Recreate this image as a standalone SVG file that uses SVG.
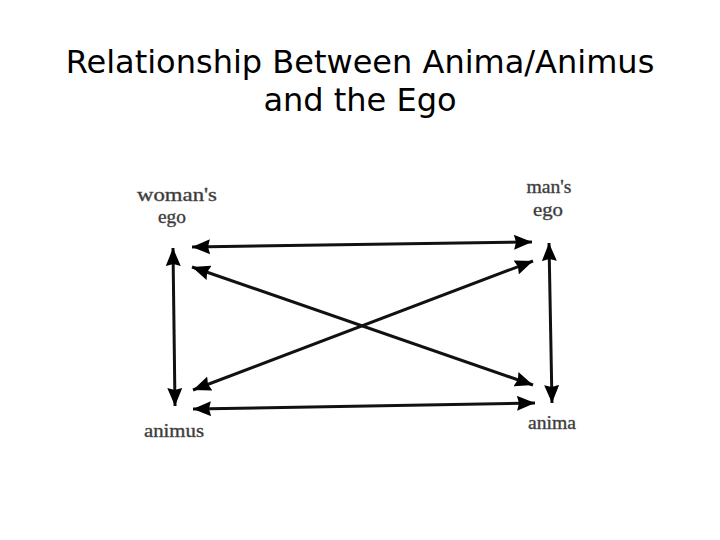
<svg xmlns="http://www.w3.org/2000/svg" width="720" height="540" viewBox="0 0 720 540">
<style>
.title{font-family:"DejaVu Sans",Verdana,sans-serif;font-size:32px;fill:#000;text-anchor:middle}
.lbl{font-family:"Liberation Serif","Times New Roman",serif;font-size:18px;fill:#333;stroke:#555;stroke-width:0.4;text-anchor:middle}
.c{stroke:#111;stroke-width:3;fill:none;marker-start:url(#ah);marker-end:url(#ah)}
</style>
<defs>
<marker id="ah" viewBox="0 0 18 15" refX="18" refY="7.5" markerWidth="18" markerHeight="15" orient="auto-start-reverse" markerUnits="userSpaceOnUse">
<path d="M0,0 L18,7.5 L0,15 L2,7.5 Z" fill="#000"/>
</marker>
</defs>
<rect width="720" height="540" fill="#fff"/>
<text class="title" x="360" y="73">Relationship Between Anima/Animus</text>
<text class="title" x="360" y="111">and the Ego</text>
<g id="womans-ego"><text class="lbl" x="177" y="201" textLength="80" lengthAdjust="spacingAndGlyphs">woman's</text><text class="lbl" x="172" y="223" textLength="28" lengthAdjust="spacingAndGlyphs">ego</text></g>
<g id="mans-ego"><text class="lbl" x="549" y="193" textLength="45" lengthAdjust="spacingAndGlyphs">man's</text><text class="lbl" x="548" y="216" textLength="30" lengthAdjust="spacingAndGlyphs">ego</text></g>
<g id="animus"><text class="lbl" x="174" y="437" textLength="60" lengthAdjust="spacingAndGlyphs">animus</text></g>
<g id="anima"><text class="lbl" x="552" y="429" textLength="48" lengthAdjust="spacingAndGlyphs">anima</text></g>
<g id="connectors">
<line class="c" x1="192" y1="247" x2="532" y2="242"/>
<line class="c" x1="173" y1="248" x2="175" y2="406"/>
<line class="c" x1="549" y1="243" x2="552" y2="403"/>
<line class="c" x1="192" y1="267" x2="533" y2="385"/>
<line class="c" x1="193" y1="390" x2="533" y2="261"/>
<line class="c" x1="193" y1="409" x2="535" y2="403"/>
</g>
</svg>
